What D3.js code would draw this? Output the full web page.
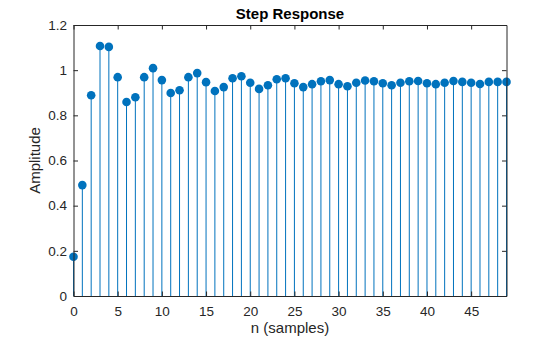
<!DOCTYPE html>
<html>
<head>
<meta charset="utf-8">
<script src="https://cdn.jsdelivr.net/npm/d3@7"></script>
<style>
  html, body { margin: 0; padding: 0; background: #fff; }
  svg { display: block; font-family: "Liberation Sans", Arial, Helvetica, sans-serif; }
</style>
</head>
<body>
<svg id="chart" width="560" height="337"></svg>
<script>
// Discrete-time step response samples
const samples = d3.range(0, 50);
const amplitude = [
  0.174, 0.491, 0.889, 1.107, 1.103, 0.969, 0.859, 0.880, 0.969, 1.009,
  0.956, 0.899, 0.911, 0.969, 0.987, 0.947, 0.908, 0.925, 0.964, 0.973,
  0.944, 0.917, 0.933, 0.960, 0.964, 0.942, 0.925, 0.938, 0.951, 0.956,
  0.938, 0.929, 0.944, 0.954, 0.951, 0.942, 0.933, 0.944, 0.951, 0.952,
  0.942, 0.938, 0.944, 0.952, 0.948, 0.944, 0.939, 0.948, 0.948, 0.948
];
const xTicks = [0, 5, 10, 15, 20, 25, 30, 35, 40, 45];
const yTicks = [0, 0.2, 0.4, 0.6, 0.8, 1, 1.2];

(function draw() {
  const svg = d3.select("#chart");
  const margin = { left: 73.5, right: 53.5, top: 25, bottom: 41 };
  const W = 560, H = 337;
  const x = d3.scaleLinear().domain([0, 49]).range([margin.left, W - margin.right]);
  const y = d3.scaleLinear().domain([0, 1.2]).range([H - margin.bottom, margin.top]);

  const axisColor = "#262626";
  const stemColor = "#0072BD";
  const tickLen = 4.5;

  // Stems
  svg.append("g").selectAll("line")
    .data(samples)
    .join("line")
    .attr("x1", d => x(d)).attr("x2", d => x(d))
    .attr("y1", y(0)).attr("y2", d => y(amplitude[d]))
    .attr("stroke", stemColor).attr("stroke-width", 1);

  // Markers
  svg.append("g").selectAll("circle")
    .data(samples)
    .join("circle")
    .attr("cx", d => x(d)).attr("cy", d => y(amplitude[d]))
    .attr("r", 4.3)
    .attr("fill", stemColor);

  // Axes (ticks pointing inward, box on all four sides)
  const fmtY = d => String(+d.toFixed(1));
  const gBottom = svg.append("g").attr("transform", `translate(0,${y(0)})`)
    .call(d3.axisBottom(x).tickValues(xTicks).tickSizeInner(-tickLen).tickSizeOuter(0).tickPadding(10));
  const gLeft = svg.append("g").attr("transform", `translate(${x(0)},0)`)
    .call(d3.axisLeft(y).tickValues(yTicks).tickFormat(fmtY).tickSizeInner(-tickLen).tickSizeOuter(0).tickPadding(6.5));
  const gTop = svg.append("g").attr("transform", `translate(0,${y(1.2)})`)
    .call(d3.axisTop(x).tickValues(xTicks).tickSizeInner(-tickLen).tickSizeOuter(0).tickFormat(""));
  const gRight = svg.append("g").attr("transform", `translate(${x(49)},0)`)
    .call(d3.axisRight(y).tickValues(yTicks).tickSizeInner(-tickLen).tickSizeOuter(0).tickFormat(""));

  [gBottom, gLeft, gTop, gRight].forEach(g => {
    g.selectAll("path.domain").attr("stroke", axisColor).attr("stroke-width", 1);
    g.selectAll(".tick line").attr("stroke", axisColor);
    g.selectAll("text").attr("fill", axisColor).style("font-size", "13.5px")
      .style("font-family", "'Liberation Sans', Arial, sans-serif");
  });

  // Title and axis labels
  svg.append("text")
    .attr("x", (x(0) + x(49)) / 2).attr("y", 18.5)
    .attr("text-anchor", "middle")
    .style("font-size", "15px").style("font-weight", "bold")
    .attr("fill", "#000")
    .text("Step Response");

  svg.append("text")
    .attr("x", (x(0) + x(49)) / 2).attr("y", 333)
    .attr("text-anchor", "middle")
    .style("font-size", "15px")
    .attr("fill", axisColor)
    .text("n (samples)");

  svg.append("text")
    .attr("transform", `translate(40,${(y(0) + y(1.2)) / 2}) rotate(-90)`)
    .attr("text-anchor", "middle")
    .style("font-size", "15px")
    .attr("fill", axisColor)
    .text("Amplitude");
})();
</script>
</body>
</html>
